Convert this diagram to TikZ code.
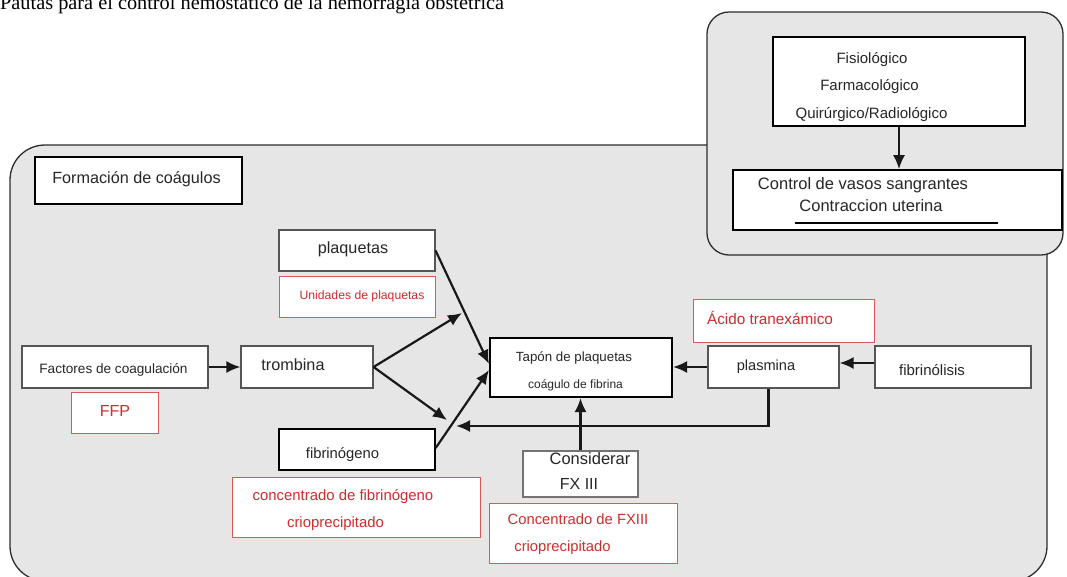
\documentclass[tikz,border=0pt]{standalone}
\usepackage{fontspec}
\setmainfont{Liberation Sans}
\newfontfamily\serifttl{Liberation Serif}
\usetikzlibrary{arrows.meta,fit}
\definecolor{panel}{RGB}{230,230,230}
\definecolor{redline}{RGB}{222,86,86}
\definecolor{redtext}{RGB}{205,45,45}
\definecolor{edge}{RGB}{45,45,45}
\definecolor{softedge}{RGB}{85,85,85}
\newcommand{\fsz}[1]{\fontsize{#1}{#1}\selectfont}
\begin{document}
\begin{tikzpicture}[x=1pt,y=-1pt,
  box/.style={draw=softedge, fill=white, line width=1.1pt, inner sep=0pt},
  boldbox/.style={draw=black, fill=white, line width=2pt, inner sep=0pt},
  redbox/.style={draw=redline, fill=white, line width=1pt, inner sep=0pt},
  txt/.style={inner sep=0pt, anchor=mid, text=black!85},
  rtxt/.style={inner sep=0pt, anchor=mid, text=redtext},
  panelbox/.style={draw=edge, fill=panel, line width=1.3pt},
  arr/.style={draw=black!90, line width=2.2pt, -{Latex[length=14pt,width=12pt]}}]
\clip (0,0) rectangle (1067,576);
\fill[white] (0,0) rectangle (1067,576);
% title (cut at top)
\node[anchor=base west, inner sep=0pt, font=\serifttl\fsz{20.3}] (title) at (0,9) {Pautas para el control hemostático de la hemorragia obstétrica};
% panels
\draw[panelbox, rounded corners=35pt] (10,145) rectangle (1047,581);
\draw[panelbox, rounded corners=22pt] (707,12) rectangle (1063,255);
% top-right panel
\node[boldbox, fit={(773,37) (1025,126)}] (fisio) {};
\node[txt, font=\fsz{15}] (tfis) at (872,61) {Fisiológico};
\node[txt, font=\fsz{15}] (tfar) at (869.5,88) {Farmacológico};
\node[txt, font=\fsz{15}] (tqui) at (871.5,116) {Quirúrgico/Radiológico};
\node[draw=black, fill=white, line width=1.6pt, inner sep=0pt, fit={(733,170) (1062,230)}] (control) {};
\node[txt, font=\fsz{16.5}] (tcon) at (863,187) {Control de vasos sangrantes};
\node[txt, font=\fsz{16.5}] (tcu) at (871,209) {Contraccion uterina};
\draw[line width=2pt] (795,223) -- (998,223);
\draw[arr] (fisio.south) -- (fisio.south |- control.north);
% main panel
\node[draw=black, fill=white, line width=1.8pt, inner sep=0pt, fit={(35,157) (242,204)}] (form) {};
\node[txt, font=\fsz{16.2}] (tform) at (136.5,181) {Formación de coágulos};
\node[box, fit={(279,230) (435,271)}] (plaq) {};
\node[txt, font=\fsz{16.2}] (tplaq) at (353,251) {plaquetas};
\node[redbox, fit={(279,276) (435,317)}] (unid) {};
\node[rtxt, font=\fsz{12.2}] (tunid) at (362,297) {Unidades de plaquetas};
\node[box, fit={(22,346) (208,388)}] (fact) {};
\node[txt, font=\fsz{13.6}] (tfact) at (113.5,371) {Factores de coagulación};
\node[redbox, fit={(71,392) (158,433)}] (ffp) {};
\node[rtxt, font=\fsz{16}] (tffp) at (115,414) {FFP};
\node[box, fit={(241,346) (373,388)}] (tromb) {};
\node[txt, font=\fsz{16.2}] (ttromb) at (293,368) {trombina};
\node[draw=black, fill=white, line width=1.4pt, inner sep=0pt, fit={(279,429) (435,470)}] (fibg) {};
\node[txt, font=\fsz{14.8}] (tfibg) at (342.5,456) {fibrinógeno};
\node[redbox, fit={(232,477) (480,537)}] (cfib) {};
\node[rtxt, font=\fsz{14.9}] (tcfib1) at (343,498) {concentrado de fibrinógeno};
\node[rtxt, font=\fsz{14.9}] (tcfib2) at (335.5,525) {crioprecipitado};
\node[boldbox, fit={(490,338) (672,397)}] (tapon) {};
\node[txt, font=\fsz{13.3}] (ttap1) at (574,359) {Tapón de plaquetas};
\node[txt, font=\fsz{12}] (ttap2) at (575.5,386) {coágulo de fibrina};
\node[redbox, fit={(693,299) (874,342)}] (acido) {};
\node[rtxt, font=\fsz{15.3}] (tacido) at (770,322) {Ácido tranexámico};
\node[box, fit={(708,346) (839,388)}] (plasm) {};
\node[txt, font=\fsz{14.6}] (tplasm) at (766,368) {plasmina};
\node[box, fit={(875,346) (1031,388)}] (fibl) {};
\node[txt, font=\fsz{15}] (tfibl) at (932,373) {fibrinólisis};
\node[draw=black!55, fill=white, line width=1.1pt, inner sep=0pt, fit={(523,451) (638,497)}] (cons) {};
\node[txt, font=\fsz{16.5}] (tcons1) at (590,462) {Considerar};
\node[txt, font=\fsz{16}] (tcons2) at (579,487) {FX III};
\node[redbox, fit={(489,503) (677,563)}] (cfx) {};
\node[rtxt, font=\fsz{14.8}] (tcfx1) at (578,522) {Concentrado de FXIII};
\node[rtxt, font=\fsz{14.8}] (tcfx2) at (562.5,549) {crioprecipitado};
% free ends
\coordinate (up) at (462,313);
\coordinate (down) at (447,420);
\coordinate (back) at (456,426);
% connectors
\draw[arr] (fact.east) -- (tromb.west);
\draw[arr] (tromb.east) -- (up);
\draw[arr] (tromb.east) -- (down);
\draw[arr] (plaq.east) -- ([yshift=3.5pt]tapon.west);
\draw[arr] ([yshift=1.5pt]fibg.east) -- ([yshift=-2.5pt]tapon.west);
\draw[arr] ([yshift=4pt]fibl.west) -- ([yshift=4pt]plasm.east);
\draw[arr] (plasm.west) -- (plasm.west -| tapon.east);
\draw[arr] ([xshift=-5pt]plasm.south) |- (back);
\draw[arr] (cons.north) -- (cons.north |- tapon.south);
\end{tikzpicture}
\end{document}
